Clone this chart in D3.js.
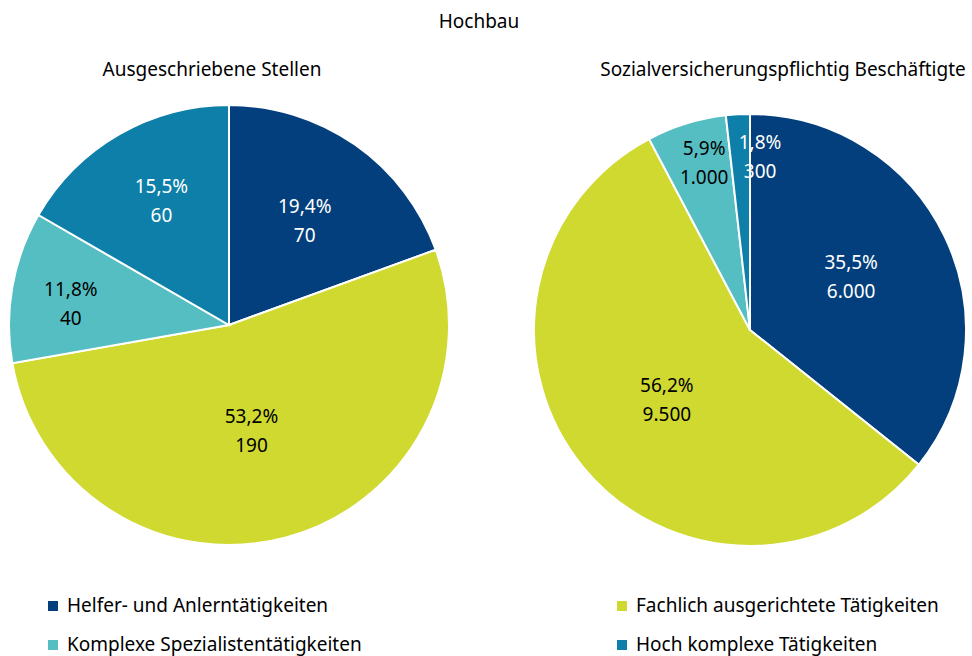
<!DOCTYPE html>
<html>
<head>
<meta charset="utf-8">
<script src="https://cdn.jsdelivr.net/npm/d3@7"></script>
<style>
  body { margin: 0; background: #fff; }
  text { font-family: "Noto Sans", Lato, sans-serif; }
</style>
</head>
<body>
<svg id="chart"></svg>
<script>
var width = 972;
var height = 656;
var fs = 19;

// categories and colours
var categories = ["Helfer- und Anlerntätigkeiten", "Fachlich ausgerichtete Tätigkeiten",
                  "Komplexe Spezialistentätigkeiten", "Hoch komplexe Tätigkeiten"];
var colors = ["#033f7c", "#cfd92f", "#55bec2", "#0e7fa8"];
var labelColors = ["#fff", "#000", "#000", "#fff"];

// left pie: ausgeschriebene Stellen (slices sized by count, labelled with share)
var stellenValues = [70, 190, 40, 60];
var stellenShare = ["19,4%", "53,2%", "11,8%", "15,5%"];
var stellenLabel = ["70", "190", "40", "60"];

// right pie: sozialversicherungspflichtig Beschäftigte
var beschValues = [6000, 9500, 1000, 300];
var beschShare = ["35,5%", "56,2%", "5,9%", "1,8%"];
var beschLabel = ["6.000", "9.500", "1.000", "300"];

var svg = d3.select("#chart").attr("width", width).attr("height", height);

svg.append("text").attr("x", 479).attr("y", 28)
    .attr("text-anchor", "middle").attr("font-size", fs).text("Hochbau");

function drawPie(cx, cy, r, title, titleX, values, shares, labels, lr, nudge) {
    var g = svg.append("g").attr("transform", "translate(" + cx + "," + cy + ")");
    svg.append("text").attr("x", titleX).attr("y", 76)
        .attr("text-anchor", "middle").attr("font-size", fs).text(title);

    var pie = d3.pie().sort(null).value(function(d){ return d; });
    var arcs = pie(values);
    var arc = d3.arc().innerRadius(0).outerRadius(r);

    g.selectAll("path").data(arcs).enter().append("path")
        .attr("d", arc)
        .attr("fill", function(d, i){ return colors[i]; })
        .attr("stroke", "#fff").attr("stroke-width", 2);

    // label offsets tuned by eye (like the office chart did)
    var lab = g.selectAll("g.lab").data(arcs).enter().append("g")
        .attr("class", "lab")
        .attr("transform", function(d, i){
            var a = (d.startAngle + d.endAngle) / 2;
            var x = Math.sin(a) * r * lr[i] + nudge[i][0];
            var y = -Math.cos(a) * r * lr[i] + nudge[i][1];
            return "translate(" + x + "," + y + ")";
        });
    lab.append("text").attr("text-anchor", "middle").attr("y", -4)
        .attr("font-size", fs)
        .attr("fill", function(d, i){ return labelColors[i]; })
        .text(function(d, i){ return shares[i]; });
    lab.append("text").attr("text-anchor", "middle").attr("y", 25)
        .attr("font-size", fs)
        .attr("fill", function(d, i){ return labelColors[i]; })
        .text(function(d, i){ return labels[i]; });
}

drawPie(229, 325, 220, "Ausgeschriebene Stellen", 212, stellenValues, stellenShare, stellenLabel,
        [0.6, 0.5, 0.73, 0.66], [[0, 0], [-6, -4], [0, 3], [5, -2]]);
drawPie(750, 330, 216, "Sozialversicherungspflichtig Beschäftigte", 783, beschValues, beschShare, beschLabel,
        [0.53, 0.5, 0.83, 0.82], [[-2, -7], [0, -3], [7, 0], [20, 0]]);

// legend
var legendPos = [[48, 606], [617, 606], [48, 645], [617, 645]];
var legend = svg.selectAll("g.legend").data(categories).enter().append("g")
    .attr("class", "legend")
    .attr("transform", function(d, i){ return "translate(" + legendPos[i][0] + "," + legendPos[i][1] + ")"; });
legend.append("rect").attr("x", 0).attr("y", -5).attr("width", 10).attr("height", 10)
    .attr("fill", function(d, i){ return colors[i]; });
legend.append("text").attr("x", 19).attr("y", 6).attr("font-size", fs)
    .text(function(d){ return d; });
</script>
</body>
</html>
